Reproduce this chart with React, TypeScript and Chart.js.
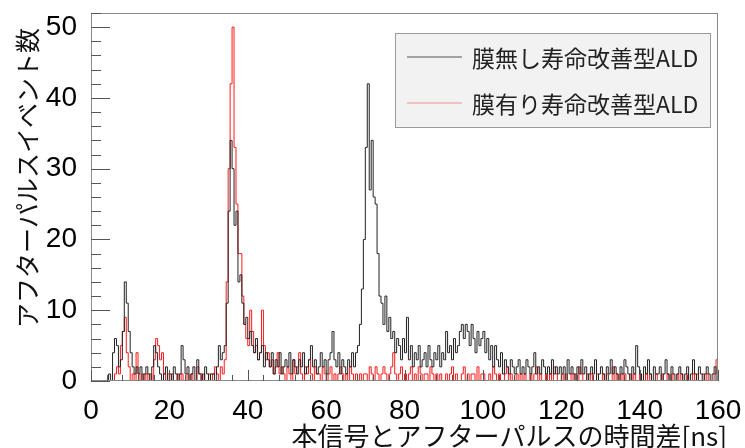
import { useEffect, useRef } from "react";
import { Chart, registerables } from "chart.js";

Chart.register(...registerables);

// Histogram binning and axis ranges
const BIN_WIDTH_NS = 0.5;
const X_RANGE = [0, 160];
const Y_RANGE = [0, 52];
const xTickValues = [0, 20, 40, 60, 80, 100, 120, 140, 160];
const yTickValues = [0, 10, 20, 30, 40, 50];
const xTitle = "本信号とアフターパルスの時間差[ns]";
const yTitle = "アフターパルスイベント数";
const seriesNames = ["膜無し寿命改善型ALD", "膜有り寿命改善型ALD"];

// Counts per 0.5 ns bin, one row per 10 ns (0 … 160 ns)
const countsWithoutFilm = [
  0, 0, 0, 0, 0, 0, 0, 0, 0, 1, 0, 4, 6, 5, 2, 3, 7, 14, 11, 7,
  4, 2, 1, 2, 1, 2, 0, 1, 2, 1, 0, 2, 5, 4, 2, 1, 0, 1, 2, 0,
  1, 0, 2, 1, 0, 1, 5, 3, 1, 2, 0, 1, 2, 0, 3, 1, 1, 0, 2, 1,
  0, 1, 1, 0, 2, 5, 3, 4, 5, 11, 24, 34, 30, 22, 24, 14, 15, 11, 8, 9,
  6, 7, 5, 4, 6, 3, 4, 5, 2, 4, 3, 2, 4, 1, 3, 2, 4, 1, 2, 3,
  2, 4, 1, 3, 2, 1, 3, 2, 4, 1, 2, 3, 5, 2, 3, 1, 2, 4, 2, 3,
  1, 3, 4, 7, 3, 2, 4, 1, 3, 2, 1, 3, 2, 4, 2, 4, 5, 8, 13, 20,
  33, 42, 27, 34, 26, 25, 18, 12, 11, 8, 12, 7, 9, 6, 7, 4, 6, 5, 3, 6,
  4, 9, 3, 5, 2, 4, 3, 5, 2, 3, 4, 2, 5, 3, 2, 4, 3, 5, 2, 4,
  3, 7, 4, 5, 3, 6, 4, 5, 7, 8, 6, 8, 7, 5, 8, 6, 4, 7, 5, 6,
  7, 4, 6, 3, 5, 2, 5, 3, 2, 4, 1, 3, 2, 1, 3, 2, 1, 2, 3, 1,
  2, 1, 3, 2, 1, 2, 4, 1, 2, 1, 3, 2, 1, 2, 1, 3, 1, 2, 1, 2,
  1, 2, 0, 3, 1, 2, 1, 0, 2, 1, 3, 1, 2, 0, 1, 2, 1, 3, 0, 1,
  2, 1, 0, 2, 1, 3, 1, 2, 1, 0, 2, 1, 3, 2, 1, 0, 2, 1, 5, 2,
  1, 0, 2, 1, 3, 1, 0, 2, 1, 1, 2, 0, 1, 3, 1, 0, 2, 1, 0, 1,
  2, 1, 0, 1, 2, 0, 1, 3, 1, 0, 2, 1, 0, 1, 2, 1, 0, 1, 2, 0,
];

const countsWithFilm = [
  0, 0, 0, 0, 0, 0, 0, 0, 0, 0, 0, 0, 1, 2, 1, 5, 7, 9, 4, 2,
  0, 1, 0, 4, 1, 0, 1, 0, 1, 0, 1, 0, 3, 6, 5, 3, 4, 1, 0, 1,
  0, 1, 0, 0, 1, 0, 1, 0, 0, 1, 0, 1, 0, 0, 2, 1, 0, 1, 0, 0,
  1, 0, 1, 2, 1, 0, 2, 1, 3, 14, 30, 42, 50, 33, 25, 18, 18, 12, 8, 6,
  5, 10, 7, 4, 5, 3, 4, 10, 5, 3, 4, 2, 3, 1, 2, 4, 1, 2, 1, 0,
  2, 1, 0, 3, 1, 2, 4, 1, 0, 2, 1, 3, 1, 0, 2, 1, 1, 0, 2, 1,
  0, 1, 2, 0, 1, 0, 1, 2, 1, 0, 1, 0, 2, 1, 0, 1, 0, 1, 0, 1,
  1, 0, 2, 1, 0, 2, 1, 0, 1, 2, 1, 0, 1, 2, 4, 1, 0, 1, 2, 0,
  1, 0, 1, 2, 0, 1, 0, 2, 1, 0, 1, 1, 0, 2, 1, 0, 1, 0, 1, 0,
  0, 1, 0, 1, 2, 0, 1, 0, 0, 1, 2, 0, 1, 0, 1, 1, 0, 2, 0, 1,
  1, 0, 0, 1, 0, 2, 1, 0, 1, 0, 0, 1, 2, 0, 1, 0, 0, 1, 0, 1,
  0, 1, 0, 0, 1, 0, 1, 2, 0, 1, 0, 0, 1, 0, 1, 0, 2, 1, 0, 0,
  1, 0, 1, 0, 0, 1, 0, 1, 0, 2, 1, 0, 0, 1, 0, 1, 0, 0, 1, 0,
  0, 1, 0, 1, 0, 0, 2, 0, 1, 0, 1, 0, 1, 0, 0, 1, 0, 1, 0, 0,
  1, 0, 0, 1, 0, 1, 0, 0, 1, 0, 0, 1, 0, 0, 1, 0, 1, 0, 0, 1,
  0, 1, 0, 0, 1, 0, 0, 1, 0, 1, 0, 0, 1, 0, 1, 0, 0, 0, 1, 3,
];

const seriesColors = ["#222222", "#ff1a1a"];
const LABEL_FONT = "Liberation Sans, Arial, sans-serif";
const CJK_FONT = '"Noto Sans CJK JP", sans-serif';

// Each bin becomes a point at its lower edge; a closing point marks the upper edge.
function toSteps(counts: number[]) {
  const pts = counts.map((c, i) => ({ x: i * BIN_WIDTH_NS, y: c }));
  pts.push({ x: counts.length * BIN_WIDTH_NS, y: counts[counts.length - 1] });
  return pts;
}

// Frame, inward tick marks, axis titles and the boxed legend
const decorations = {
  id: "decorations",
  afterDraw(chart: any) {
    const { ctx, chartArea: a, scales } = chart;
    const xs = scales.x;
    const ys = scales.y;
    ctx.save();

    ctx.strokeStyle = "#8a8a8a";
    ctx.lineWidth = 1;
    ctx.strokeRect(a.left + 0.5, a.top + 0.5, a.right - a.left - 1, a.bottom - a.top - 1);

    ctx.strokeStyle = "#555";
    ctx.beginPath();
    for (let v = Y_RANGE[0]; v <= Y_RANGE[1]; v += 2) {
      const py = Math.round(ys.getPixelForValue(v)) + 0.5;
      const len = v % 10 === 0 ? 19 : 10;
      ctx.moveTo(a.left, py);
      ctx.lineTo(a.left + len, py);
    }
    for (let v = X_RANGE[0]; v <= X_RANGE[1]; v += 4) {
      const px = Math.round(xs.getPixelForValue(v)) + 0.5;
      const len = v % 20 === 0 ? 11 : 6;
      ctx.moveTo(px, a.bottom);
      ctx.lineTo(px, a.bottom - len);
    }
    ctx.stroke();

    // axis titles
    ctx.fillStyle = "#111";
    ctx.font = `26px ${CJK_FONT}`;
    ctx.textBaseline = "middle";
    ctx.textAlign = "right";
    ctx.fillText(xTitle, 727, 436);
    ctx.save();
    ctx.translate(27, 178);
    ctx.rotate(-Math.PI / 2);
    ctx.textAlign = "center";
    ctx.font = `25px ${CJK_FONT}`;
    ctx.fillText(yTitle, 0, 0);
    ctx.restore();

    // legend box
    const bx = 395, by = 33, bw = 315, bh = 94;
    ctx.fillStyle = "#f2f2f2";
    ctx.fillRect(bx, by, bw, bh);
    ctx.strokeStyle = "#9a9a9a";
    ctx.strokeRect(bx + 0.5, by + 0.5, bw, bh);
    const rows = [57, 103];
    ctx.font = `23px ${CJK_FONT}`;
    ctx.textAlign = "left";
    seriesNames.forEach((name, i) => {
      ctx.strokeStyle = i === 0 ? "#555" : "rgba(240,80,80,0.6)";
      ctx.beginPath();
      ctx.moveTo(407, rows[i]);
      ctx.lineTo(462, rows[i]);
      ctx.stroke();
      ctx.fillStyle = "#222";
      ctx.fillText(name, 472, rows[i] + 1);
    });
    ctx.restore();
  },
};

export default function App() {
  const canvasRef = useRef<HTMLCanvasElement | null>(null);

  useEffect(() => {
    document.body.style.margin = "0";
    const canvas = canvasRef.current;
    if (!canvas) return;
    const chart = new Chart(canvas, {
      type: "line",
      data: {
        datasets: [
          {
            label: seriesNames[0],
            data: toSteps(countsWithoutFilm),
            borderColor: seriesColors[0],
            borderWidth: 1,
            pointRadius: 0,
            stepped: "before",
            fill: false,
          },
          {
            label: seriesNames[1],
            data: toSteps(countsWithFilm),
            borderColor: seriesColors[1],
            borderWidth: 1,
            pointRadius: 0,
            stepped: "before",
            fill: false,
          },
        ],
      },
      options: {
        animation: false,
        responsive: false,
        devicePixelRatio: 1,
        layout: { padding: { left: 0, top: 13, right: 27, bottom: 0 } },
        plugins: { legend: { display: false }, tooltip: { enabled: false } },
        scales: {
          x: {
            type: "linear",
            min: X_RANGE[0],
            max: X_RANGE[1],
            grid: { display: false, drawTicks: false, tickLength: 0 },
            border: { display: false },
            afterBuildTicks: (s: any) => {
              s.ticks = xTickValues.map((v) => ({ value: v }));
            },
            afterFit: (s: any) => {
              s.height = 67;
              s.paddingLeft = 0;
              s.paddingRight = 0;
            },
            ticks: {
              maxRotation: 0,
              autoSkip: false,
              padding: 13,
              color: "#000",
              font: { family: LABEL_FONT, size: 28 },
            },
          },
          y: {
            type: "linear",
            min: Y_RANGE[0],
            max: Y_RANGE[1],
            grid: { display: false, drawTicks: false, tickLength: 0 },
            border: { display: false },
            afterBuildTicks: (s: any) => {
              s.ticks = yTickValues.map((v) => ({ value: v }));
            },
            afterFit: (s: any) => {
              s.width = 91;
              s.paddingTop = 0;
              s.paddingBottom = 0;
            },
            ticks: {
              autoSkip: false,
              padding: 14,
              color: "#000",
              font: { family: LABEL_FONT, size: 28 },
            },
          },
        },
      },
      plugins: [decorations],
    });
    return () => chart.destroy();
  }, []);

  return (
    <div style={{ position: "absolute", left: 0, top: 0, width: 745, height: 448, background: "#fff" }}>
      <canvas ref={canvasRef} width={745} height={448} />
    </div>
  );
}
